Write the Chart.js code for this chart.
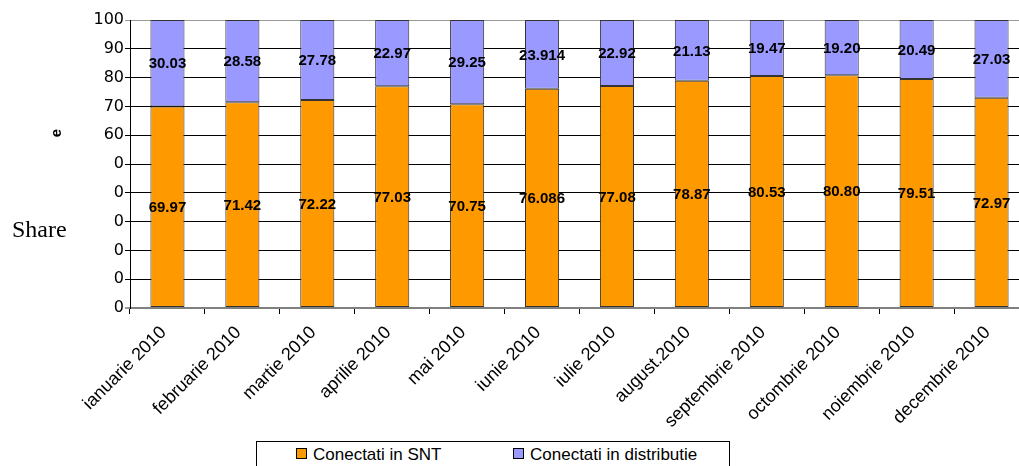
<!DOCTYPE html>
<html>
<head>
<meta charset="utf-8">
<script src="https://cdn.jsdelivr.net/npm/chart.js@4"></script>
<style>
  html, body { margin: 0; padding: 0; background: #fff; overflow: hidden; }
  #wrap { position: relative; width: 1040px; height: 466px; }
  #legend {
    position: absolute; left: 256px; top: 441px; width: 474px; height: 30px;
    border: 1px solid #000; box-sizing: border-box; background: #fff;
    font-family: "Liberation Sans", Arial, sans-serif; font-size: 17px; color: #000;
  }
  #legend span.item { position: absolute; top: 3px; white-space: nowrap; }
  #legend span.box {
    display: inline-block; width: 9px; height: 9px; border: 1px solid #000;
    margin-right: 6px; vertical-align: 1px;
  }
</style>
</head>
<body>
<div id="wrap">
  <canvas id="myChart" width="1040" height="466"></canvas>
  <div id="legend"></div>
</div>
<script>
// Date lunare 2010
const luni = ['ianuarie 2010', 'februarie 2010', 'martie 2010', 'aprilie 2010', 'mai 2010', 'iunie 2010',
              'iulie 2010', 'august.2010', 'septembrie 2010', 'octombrie 2010', 'noiembrie 2010', 'decembrie 2010'];
const conectatiSNT = [69.97, 71.42, 72.22, 77.03, 70.75, 76.086, 77.08, 78.87, 80.53, 80.80, 79.51, 72.97];
const conectatiDistributie = [30.03, 28.58, 27.78, 22.97, 29.25, 23.914, 22.92, 21.13, 19.47, 19.20, 20.49, 27.03];
const etichetePctY = ['0', '0', '0', '0', '0', '0', '60', '70', '80', '90', '100'];

// minim doua zecimale, dar pastreaza si a treia daca exista
function fmt(v) {
    const dec = (String(v).split('.')[1] || '').length;
    return v.toFixed(Math.max(2, dec));
}

const valoriPeBare = {
    id: 'valoriPeBare',
    afterDatasetsDraw(chart) {
        const ctx = chart.ctx;
        ctx.save();
        ctx.font = 'bold 15px "Liberation Sans", Arial, sans-serif';
        ctx.fillStyle = '#000';
        ctx.textAlign = 'center';
        ctx.textBaseline = 'middle';
        chart.data.datasets.forEach((ds, i) => {
            chart.getDatasetMeta(i).data.forEach((bar, j) => {
                ctx.fillText(fmt(ds.data[j]), bar.x, (bar.y + bar.base) / 2 + 1);
            });
        });
        ctx.restore();
    }
};

const titluAxa = {
    id: 'titluAxa',
    afterDraw(chart) {
        const ctx = chart.ctx;
        ctx.save();
        ctx.fillStyle = '#000';
        ctx.font = '24px "Liberation Serif", "Times New Roman", serif';
        ctx.textAlign = 'left';
        ctx.textBaseline = 'alphabetic';
        ctx.fillText('Share', 12, 237);
        // resturi din titlul vertical
        ctx.font = 'bold 15px "Liberation Sans", Arial, sans-serif';
        ctx.translate(57, 133);
        ctx.rotate(-Math.PI / 2);
        ctx.textAlign = 'center';
        ctx.textBaseline = 'middle';
        ctx.fillText('e', 0, 0);
        ctx.restore();
    }
};

const ctx = document.getElementById('myChart');

const chart = new Chart(ctx, {
    type: 'bar',
    data: {
        labels: luni,
        datasets: [{
            label: 'Conectati in SNT',
            data: conectatiSNT,
            backgroundColor: '#FF9900',
            borderColor: '#333333',
            borderWidth: 1,
            borderSkipped: false
        }, {
            label: 'Conectati in distributie',
            data: conectatiDistributie,
            backgroundColor: '#9999FF',
            borderColor: '#333333',
            borderWidth: 1,
            borderSkipped: false
        }]
    },
    options: {
        responsive: false,
        animation: false,
        categoryPercentage: 1,
        barPercentage: 0.455,
        layout: { padding: { left: 0, right: 11, top: 20, bottom: 0 } },
        plugins: {
            legend: { display: false },
            tooltip: { enabled: false }
        },
        scales: {
            x: {
                stacked: true,
                offset: true,
                afterFit(scale) { scale.height = 158; },
                grid: {
                    offset: true,
                    drawOnChartArea: false,
                    tickLength: 6,
                    color: '#000'
                },
                border: { color: '#808080', width: 2 },
                ticks: {
                    minRotation: 45,
                    maxRotation: 45,
                    autoSkip: false,
                    padding: 8,
                    labelOffset: -4,
                    color: '#000',
                    font: { family: '"Liberation Sans", Arial, sans-serif', size: 18 }
                }
            },
            y: {
                stacked: true,
                min: 0,
                max: 100,
                afterFit(scale) { scale.width = 130; },
                grid: {
                    tickLength: 5,
                    color: (c) => (c.tick && (c.tick.value === 100 || c.tick.value === 0)) ? '#9a9a9a' : '#000',
                    lineWidth: (c) => (c.tick && c.tick.value === 0) ? 2 : 1
                },
                border: { color: '#000', width: 1 },
                ticks: {
                    stepSize: 10,
                    padding: 1,
                    color: '#000',
                    font: { family: '"DejaVu Sans", sans-serif', size: 16 },
                    callback: (v) => etichetePctY[v / 10]
                }
            }
        }
    },
    plugins: [valoriPeBare, titluAxa]
});

// legenda cu chenar sub grafic
const legenda = document.getElementById('legend');
const pozitii = [39, 256];
chart.data.datasets.forEach((ds, i) => {
    const item = document.createElement('span');
    item.className = 'item';
    item.style.left = pozitii[i] + 'px';
    item.innerHTML = '<span class="box" style="background:' + ds.backgroundColor + '"></span>' + ds.label;
    legenda.appendChild(item);
});
</script>
</body>
</html>
